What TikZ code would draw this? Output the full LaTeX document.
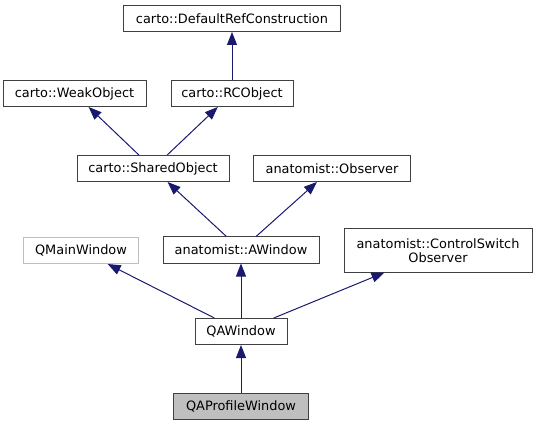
\documentclass[tikz,border=0pt]{standalone}
\usepackage{fontspec}
\setmainfont{DejaVu Sans}
\usetikzlibrary{arrows.meta}
\definecolor{edgeblue}{HTML}{191970}
\definecolor{boxgray}{HTML}{404040}
\definecolor{litegray}{HTML}{BFBFBF}

\begin{document}
\begin{tikzpicture}[x=1pt, y=-1pt,
   cls/.style={draw=boxgray, fill=white, text=black, line width=1pt, minimum height=26pt, inner sep=0pt,
      font=\fontsize{12.9}{14.5}\selectfont, align=center},
   inh/.style={color=edgeblue, line width=1pt, -{Triangle[length=13pt, width=10pt]}}]
   \useasboundingbox (0, 0) rectangle (536, 425);

   \node[cls, minimum width=217pt] (drc) at (232, 18.5) {carto::DefaultRefConstruction};
   \node[cls, minimum width=143pt] (weak) at (74.5, 93.5) {carto::WeakObject};
   \node[cls, minimum width=122pt] (rco) at (232, 93.5) {carto::RCObject};
   \node[cls, minimum width=152pt] (shared) at (153, 168.5) {carto::SharedObject};
   \node[cls, minimum width=157pt] (observer) at (332, 168.5) {anatomist::Observer};
   \node[cls, draw=litegray, text=black, minimum width=115pt] (qmain) at (81, 250.5) {QMainWindow};
   \node[cls, minimum width=156pt] (awin) at (241, 250) {anatomist::AWindow};
   \node[cls, minimum width=188pt, minimum height=43pt] (ctrl) at (438, 250.5) {anatomist::ControlSwitch\\Observer};
   \node[cls, minimum width=92pt] (qawin) at (241, 331.5) {QAWindow};
   \node[cls, fill=litegray, minimum width=135pt] (qaprof) at (241, 406) {QAProfileWindow};

   \draw[inh] (rco) -- (drc);
   \draw[inh] (shared) -- (weak);
   \draw[inh] (shared) -- (rco);
   \draw[inh] (awin) -- (shared);
   \draw[inh] (awin) -- (observer);
   \draw[inh] (qawin) -- (qmain);
   \draw[inh] (qawin) -- (awin);
   \draw[inh] (qawin) -- (ctrl);
   \draw[inh] (qaprof) -- (qawin);
\end{tikzpicture}
\end{document}
